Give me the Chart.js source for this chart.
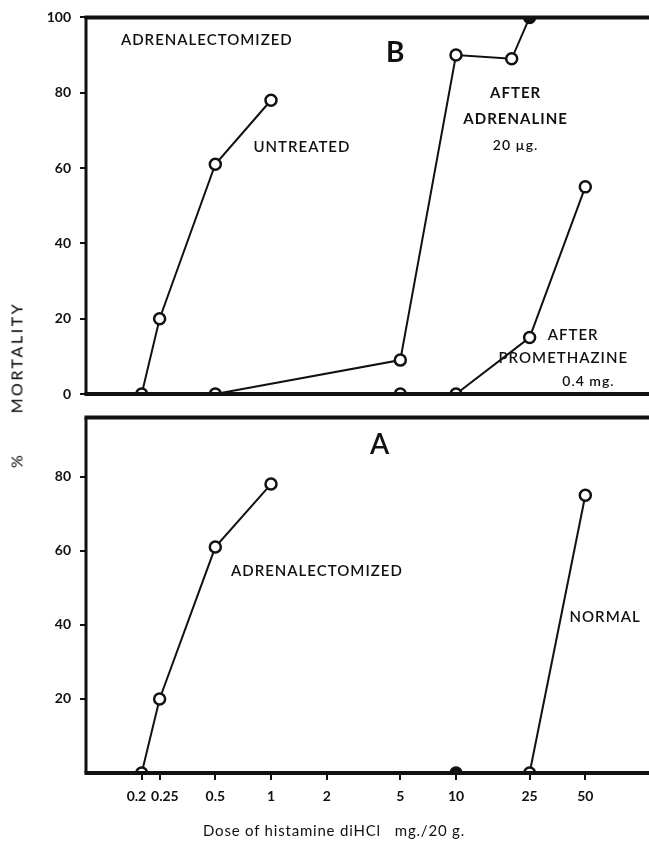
<!DOCTYPE html>
<html>
<head>
<meta charset="utf-8">
<script src="https://cdn.jsdelivr.net/npm/chart.js@4.4.1/dist/chart.umd.min.js"></script>
<style>
  html, body { margin: 0; padding: 0; background: #fff; }
  #wrap { position: relative; width: 649px; height: 842px; overflow: hidden; font-family: Lato, "Open Sans", sans-serif; color: #111; }
  .panel { position: absolute; left: 0; }
  #ytitle {
    position: absolute; left: 16px; top: 385px;
    transform: translate(-50%, -50%) rotate(-90deg);
    font-size: 16px; font-weight: 500; letter-spacing: 2.5px; white-space: nowrap;
  }
  #xtitle {
    position: absolute; left: 334px; top: 830px;
    transform: translate(-50%, -50%);
    font-size: 15px; letter-spacing: 0.8px; white-space: nowrap;
  }
</style>
</head>
<body>
<div id="wrap">
  <div class="panel" style="top:0;width:649px;height:420px"><canvas id="chartB" width="649" height="420"></canvas></div>
  <div class="panel" style="top:400px;width:649px;height:442px"><canvas id="chartA" width="649" height="442"></canvas></div>
  <div id="ytitle">%&nbsp;&nbsp;&nbsp;&nbsp;&nbsp;&nbsp;MORTALITY</div>
  <div id="xtitle">Dose of histamine diHCl&nbsp;&nbsp;&nbsp;mg./20 g.</div>
</div>
<script>
// Doses (mg./20 g.) shown on the log axis
const doseTicks = [0.2, 0.25, 0.5, 1, 2, 5, 10, 25, 50];
const doseLabels = ['0.2\u2003', '\u20030.25', '0.5', '1', '2', '5', '10', '25', '50'];

// Panel B - adrenalectomized mice
const untreatedDose = [0.2, 0.25, 0.5, 1];
const untreatedMort = [0, 20, 61, 78];
const adrenalineDose = [0.5, 5, 10, 20, 25];
const adrenalineMort = [0, 9, 90, 89, 100];
const promethazineDose = [5, 10, 25, 50];
const promethazineMort = [0, 0, 15, 55];

// Panel A - adrenalectomized vs normal
const adxDose = [0.2, 0.25, 0.5, 1];
const adxMort = [0, 20, 61, 78];
const normalDose = [10, 25, 50];
const normalMort = [0, 0, 75];

const tickB = [0, 20, 40, 60, 80, 100];
const tickA = [20, 40, 60, 80];

// labels placed in data units
const notesB = [
  { t: 'ADRENALECTOMIZED', x: 0.45, y: 94, size: 15 },
  { t: 'B', x: 4.7, y: 90.5, size: 28, bold: true },
  { t: 'UNTREATED', x: 1.47, y: 65.5, size: 15 },
  { t: 'AFTER', x: 21, y: 80, size: 15, bold: true },
  { t: 'ADRENALINE', x: 21, y: 73, size: 15, bold: true },
  { t: '20 \u00b5g.', x: 21, y: 66, size: 14 },
  { t: 'AFTER', x: 43, y: 15.5, size: 15 },
  { t: 'PROMETHAZINE', x: 38, y: 9.5, size: 15 },
  { t: '0.4 mg.', x: 52, y: 3.4, size: 14 }
];
const notesA = [
  { t: 'A', x: 3.86, y: 88.5, size: 28 },
  { t: 'ADRENALECTOMIZED', x: 1.77, y: 54.5, size: 15 },
  { t: 'NORMAL', x: 64, y: 42, size: 15 }
];

const FONT = 'Lato, "Open Sans", sans-serif';

function pts(xs, ys) {
  return xs.map((x, i) => ({ x: x, y: ys[i] }));
}

function series(xs, ys, filled) {
  return {
    data: pts(xs, ys),
    borderColor: '#111',
    borderWidth: 2,
    pointRadius: 5.5,
    pointBorderWidth: 2.5,
    pointBorderColor: '#111',
    pointBackgroundColor: xs.map((_, i) => filled && filled.includes(i) ? '#111' : '#fff'),
    tension: 0
  };
}

// frame + free text
const framePlugin = {
  id: 'frame',
  afterDatasetsDraw(chart, args, opts) {
    const ctx = chart.ctx;
    const a = chart.chartArea;
    ctx.save();
    ctx.strokeStyle = '#111';
    ctx.lineWidth = 4;
    ctx.beginPath();
    ctx.moveTo(a.left - 1.5, a.top);
    ctx.lineTo(649, a.top);
    ctx.moveTo(a.left - 1.5, a.bottom);
    ctx.lineTo(649, a.bottom);
    ctx.stroke();
    ctx.lineWidth = 3;
    ctx.beginPath();
    ctx.moveTo(a.left, a.top);
    ctx.lineTo(a.left, a.bottom);
    ctx.stroke();

    ctx.fillStyle = '#111';
    ctx.textAlign = 'center';
    ctx.textBaseline = 'middle';
    (opts.notes || []).forEach(n => {
      ctx.font = (n.bold ? '700 ' : '600 ') + n.size + 'px ' + FONT;
      ctx.letterSpacing = n.size > 20 ? '0px' : '1px';
      const px = chart.scales.x.getPixelForValue(n.x);
      const py = chart.scales.y.getPixelForValue(n.y);
      ctx.fillText(n.t, px, py);
    });
    ctx.restore();
  }
};

function makeChart(id, datasets, yMax, yTicks, showX, notes, padTop, padBottom) {
  return new Chart(document.getElementById(id), {
    type: 'line',
    data: { datasets: datasets },
    plugins: [framePlugin],
    options: {
      responsive: false,
      animation: false,
      events: [],
      layout: { padding: { top: padTop, bottom: padBottom, left: 0, right: 3 } },
      plugins: {
        legend: { display: false },
        tooltip: { enabled: false },
        frame: { notes: notes }
      },
      scales: {
        x: {
          type: 'logarithmic',
          min: 0.1,
          max: 100,
          display: showX,
          afterBuildTicks: s => { s.ticks = doseTicks.map(v => ({ value: v })); },
          afterFit: s => { s.height = showX ? 46 : 0; },
          ticks: {
            autoSkip: false,
            maxRotation: 0,
            padding: 8,
            color: '#111',
            font: { family: FONT, size: 14, weight: '700' },
            callback: (v, i) => doseLabels[i]
          },
          grid: { display: true, drawOnChartArea: false, drawTicks: true, tickLength: 7, color: '#111', lineWidth: 2 },
          border: { display: false }
        },
        y: {
          min: 0,
          max: yMax,
          afterBuildTicks: s => { s.ticks = yTicks.map(v => ({ value: v })); },
          afterFit: s => { s.width = 86; },
          ticks: {
            padding: 9,
            color: '#111',
            font: { family: FONT, size: 14, weight: '700' }
          },
          grid: { display: true, drawOnChartArea: false, drawTicks: true, tickLength: 6, color: '#111', lineWidth: 2 },
          border: { display: false }
        }
      }
    }
  });
}

makeChart('chartB', [
  series(untreatedDose, untreatedMort),
  series(adrenalineDose, adrenalineMort, [4]),
  series(promethazineDose, promethazineMort)
], 100, tickB, false, notesB, 17, 26);

makeChart('chartA', [
  series(adxDose, adxMort),
  Object.assign(series(normalDose, normalMort, [0]), {
    segment: { borderWidth: c => c.p0DataIndex === 0 ? 4 : 2 }
  })
], 96, tickA, true, notesA, 13, 23);
</script>
</body>
</html>
